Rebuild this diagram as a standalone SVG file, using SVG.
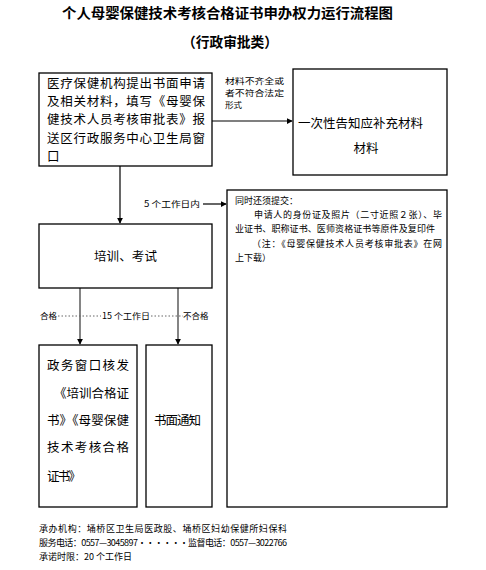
<svg xmlns="http://www.w3.org/2000/svg" width="486" height="570" viewBox="0 0 486 570">
<style>
text{font-family:"Noto Sans CJK SC","Liberation Sans",sans-serif;fill:#000}
.title{font-size:14px;font-weight:bold}
.box{fill:#fff;stroke:#000;stroke-width:1.3}
.t13{font-size:12.5px}
.t9{font-size:9px}
.s8{font-size:8.5px}
.con{stroke:#000;stroke-width:1.2;fill:none}
.gray{stroke:#666;stroke-width:1.6;fill:none}
.dot{stroke:#666;stroke-width:1;stroke-dasharray:1.5 2;fill:none}
</style>
<defs>
<marker id="ah" viewBox="0 0 8 8" refX="7" refY="4" markerWidth="6" markerHeight="6" markerUnits="userSpaceOnUse" orient="auto">
<path d="M0,0 L8,4 L0,8 Z" fill="#000"/>
</marker>
</defs>
<rect width="486" height="570" fill="#fff"/>
<g id="title">
<text class="title" x="62" y="18" textLength="331" lengthAdjust="spacingAndGlyphs">个人母婴保健技术考核合格证书申办权力运行流程图</text>
<text class="title" x="182" y="47" textLength="96" lengthAdjust="spacingAndGlyphs">（行政审批类）</text>
</g>
<g id="connectors">
<line class="con" x1="120" y1="166" x2="120" y2="223" marker-end="url(#ah)"/>
<line class="con" x1="212" y1="121" x2="292" y2="121" marker-end="url(#ah)"/>
<line class="con" x1="203" y1="204" x2="226" y2="204" marker-end="url(#ah)"/>
<line class="gray" x1="80" y1="288" x2="80" y2="344" marker-end="url(#ah)"/>
<line class="gray" x1="178" y1="288" x2="178" y2="344" marker-end="url(#ah)"/>
<line class="dot" x1="58" y1="316" x2="101" y2="316"/>
<line class="dot" x1="151" y1="316" x2="183" y2="316"/>
<text class="s8" x="225" y="84" textLength="59" lengthAdjust="spacingAndGlyphs">材料不齐全或</text>
<text class="s8" x="225" y="96" textLength="59" lengthAdjust="spacingAndGlyphs">者不符合法定</text>
<text class="s8" x="225" y="108">形式</text>
<text class="s8" x="144" y="207" textLength="56" lengthAdjust="spacingAndGlyphs">5 个工作日内</text>
<text class="s8" x="40" y="319">合格</text>
<text class="s8" x="102" y="319" textLength="48" lengthAdjust="spacingAndGlyphs">15 个工作日</text>
<text class="s8" x="183" y="319">不合格</text>
</g>
<g id="n1">
<rect class="box" x="39" y="73" width="173" height="93"/>
<text class="t13" x="47" y="88" textLength="158" lengthAdjust="spacing">医疗保健机构提出书面申请</text>
<text class="t13" x="47" y="106" textLength="158" lengthAdjust="spacing">及相关材料，填写《母婴保</text>
<text class="t13" x="47" y="124" textLength="158" lengthAdjust="spacing">健技术人员考核审批表》报</text>
<text class="t13" x="47" y="143" textLength="158" lengthAdjust="spacing">送区行政服务中心卫生局窗</text>
<text class="t13" x="47" y="161">口</text>
</g>
<g id="n2">
<rect class="box" x="293" y="69" width="154" height="106"/>
<text class="t13" x="298" y="128" textLength="125" lengthAdjust="spacing">一次性告知应补充材料</text>
<text class="t13" x="366" y="153" text-anchor="middle">材料</text>
</g>
<g id="n3">
<rect class="box" x="227" y="190" width="220" height="317"/>
<text class="t9" x="235" y="204">同时还须提交：</text>
<text class="t9" x="254" y="218" textLength="188" lengthAdjust="spacing">申请人的身份证及照片（二寸近照２张）、毕</text>
<text class="t9" x="235" y="232" textLength="200" lengthAdjust="spacing">业证书、职称证书、医师资格证书等原件及复印件</text>
<text class="t9" x="252" y="247" textLength="190" lengthAdjust="spacing">（注：《母婴保健技术人员考核审批表》在网</text>
<text class="t9" x="235" y="261">上下载）</text>
</g>
<g id="n4">
<rect class="box" x="39" y="224" width="173" height="64"/>
<text class="t13" x="94" y="261" textLength="63" lengthAdjust="spacing">培训、考试</text>
</g>
<g id="n5">
<rect class="box" x="39" y="345" width="98" height="162"/>
<text class="t13" x="47" y="370" textLength="82" lengthAdjust="spacing">政务窗口核发</text>
<text class="t13" x="54" y="398" textLength="75" lengthAdjust="spacing">《培训合格证</text>
<text class="t13" x="47" y="425" textLength="82" lengthAdjust="spacing">书》《母婴保健</text>
<text class="t13" x="47" y="452" textLength="82" lengthAdjust="spacing">技术考核合格</text>
<text class="t13" x="47" y="481" textLength="34" lengthAdjust="spacing">证书》</text>
</g>
<g id="n6">
<rect class="box" x="146" y="345" width="66" height="162"/>
<text class="t13" x="154" y="425" textLength="47" lengthAdjust="spacing">书面通知</text>
</g>
<g id="footer">
<text class="t9" x="39" y="532" textLength="248" lengthAdjust="spacing">承办机构：埇桥区卫生局医政股、埇桥区妇幼保健所妇保科</text>
<text class="t9" x="39" y="546" textLength="248" lengthAdjust="spacing">服务电话：0557—3045897······监督电话：0557—3022766</text>
<text class="t9" x="39" y="560">承诺时限：20 个工作日</text>
</g>
</svg>
